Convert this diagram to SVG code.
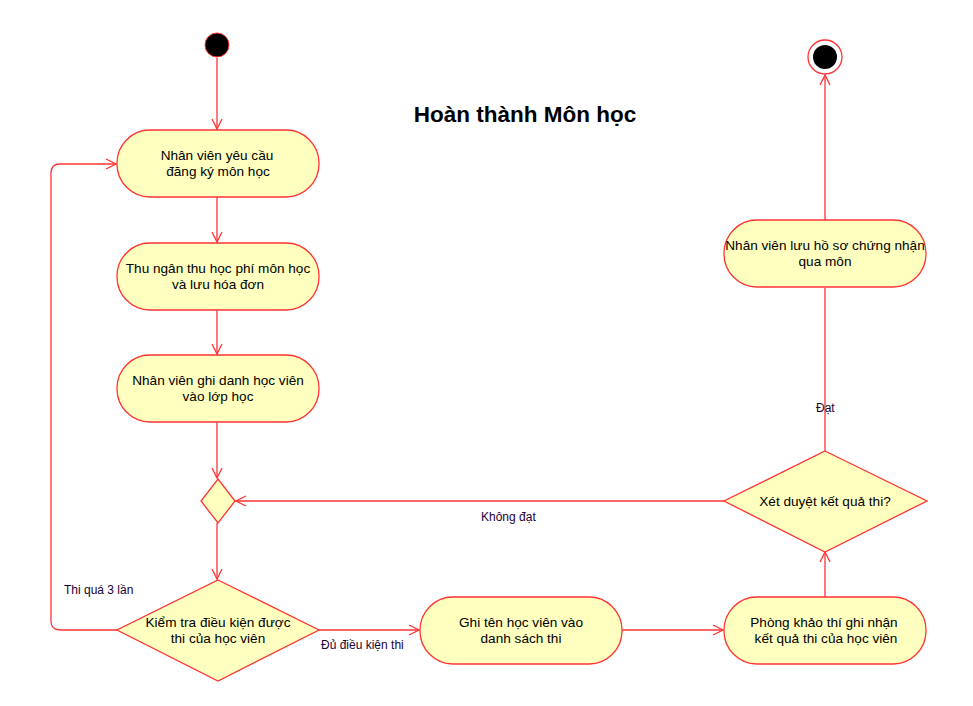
<svg xmlns="http://www.w3.org/2000/svg" width="973" height="706" viewBox="0 0 973 706">
<defs>
<style>
.n{fill:#ffffc0;stroke:#ff3333;stroke-width:1.3}
.t{font-family:"Liberation Sans",Arial,sans-serif;font-size:13.6px;fill:#000;text-anchor:middle}
.l{font-family:"Liberation Sans",Arial,sans-serif;font-size:12px;fill:#1a0033}
.e{fill:none;stroke:#ff3333;stroke-width:1.3}
</style>
<marker id="a" markerWidth="14" markerHeight="14" refX="11" refY="6" orient="auto" markerUnits="userSpaceOnUse" viewBox="0 0 14 12">
<path d="M1,1 L11,6 L1,11" fill="none" stroke="#ff3333" stroke-width="1.3"/>
</marker>
</defs>
<rect width="973" height="706" fill="#fff"/>
<text x="525" y="122" font-family="'Liberation Sans',Arial,sans-serif" font-size="22.5" font-weight="bold" text-anchor="middle">Hoàn thành Môn học</text>
<g id="connectors">
<path class="e" d="M217,58 V129" marker-end="url(#a)"/>
<path class="e" d="M217,197 V242" marker-end="url(#a)"/>
<path class="e" d="M217,310 V354" marker-end="url(#a)"/>
<path class="e" d="M217,422 V478" marker-end="url(#a)"/>
<path class="e" d="M217,523 V579" marker-end="url(#a)"/>
<path class="e" d="M117,630 H60 Q51,630 51,621 V173 Q51,164 60,164 H116" marker-end="url(#a)"/>
<path class="e" d="M319,630 H419" marker-end="url(#a)"/>
<path class="e" d="M622,630 H723" marker-end="url(#a)"/>
<path class="e" d="M825,597 V552" marker-end="url(#a)"/>
<path class="e" d="M724,501 H236" marker-end="url(#a)"/>
<path class="e" d="M825,451 V288"/>
<path class="e" d="M825,220 V75" marker-end="url(#a)"/>
<text class="l" x="64" y="594">Thi quá 3 lần</text>
<text class="l" x="321" y="649">Đủ điều kiện thi</text>
<text class="l" x="481" y="521">Không đạt</text>
<text class="l" x="816" y="412">Đạt</text>
</g>
<g id="start"><circle cx="217" cy="45" r="12" fill="#000" stroke="#ff3333" stroke-width="1"/></g>
<g id="n1"><rect class="n" x="117" y="130" width="202" height="67" rx="33"/>
<text class="t" x="217" y="160">Nhân viên yêu cầu</text><text class="t" x="218" y="176">đăng ký môn học</text></g>
<g id="n2"><rect class="n" x="117" y="243" width="202" height="67" rx="33"/>
<text class="t" x="218" y="273">Thu ngân thu học phí môn học</text><text class="t" x="218" y="289">và lưu hóa đơn</text></g>
<g id="n3"><rect class="n" x="117" y="355" width="202" height="67" rx="33"/>
<text class="t" x="218" y="385">Nhân viên ghi danh học viên</text><text class="t" x="218" y="401">vào lớp học</text></g>
<g id="merge"><polygon class="n" points="218,479 235,501 218,523 201,501"/></g>
<g id="check"><polygon class="n" points="218,580 319,630 218,681 117,630"/>
<text class="t" x="218" y="627">Kiểm tra điều kiện được</text><text class="t" x="218" y="643">thi của học viên</text></g>
<g id="n4"><rect class="n" x="420" y="597" width="202" height="67" rx="33"/>
<text class="t" x="521" y="627">Ghi tên học viên vào</text><text class="t" x="521" y="643">danh sách thi</text></g>
<g id="n5"><rect class="n" x="724" y="597" width="202" height="67" rx="33"/>
<text class="t" x="824" y="627">Phòng khảo thí ghi nhận</text><text class="t" x="826" y="643">kết quả thi của học viên</text></g>
<g id="review"><polygon class="n" points="825,451 927,501 825,552 724,501"/>
<text class="t" x="825" y="506">Xét duyệt kết quả thi?</text></g>
<g id="n6"><rect class="n" x="724" y="220" width="202" height="67" rx="33"/>
<text class="t" x="825" y="250">Nhân viên lưu hồ sơ chứng nhận</text><text class="t" x="825" y="266">qua môn</text></g>
<g id="end"><circle cx="825" cy="57" r="17" fill="#fff" stroke="#ff3333" stroke-width="1.3"/><circle cx="825" cy="57" r="12" fill="#000"/></g>
</svg>
